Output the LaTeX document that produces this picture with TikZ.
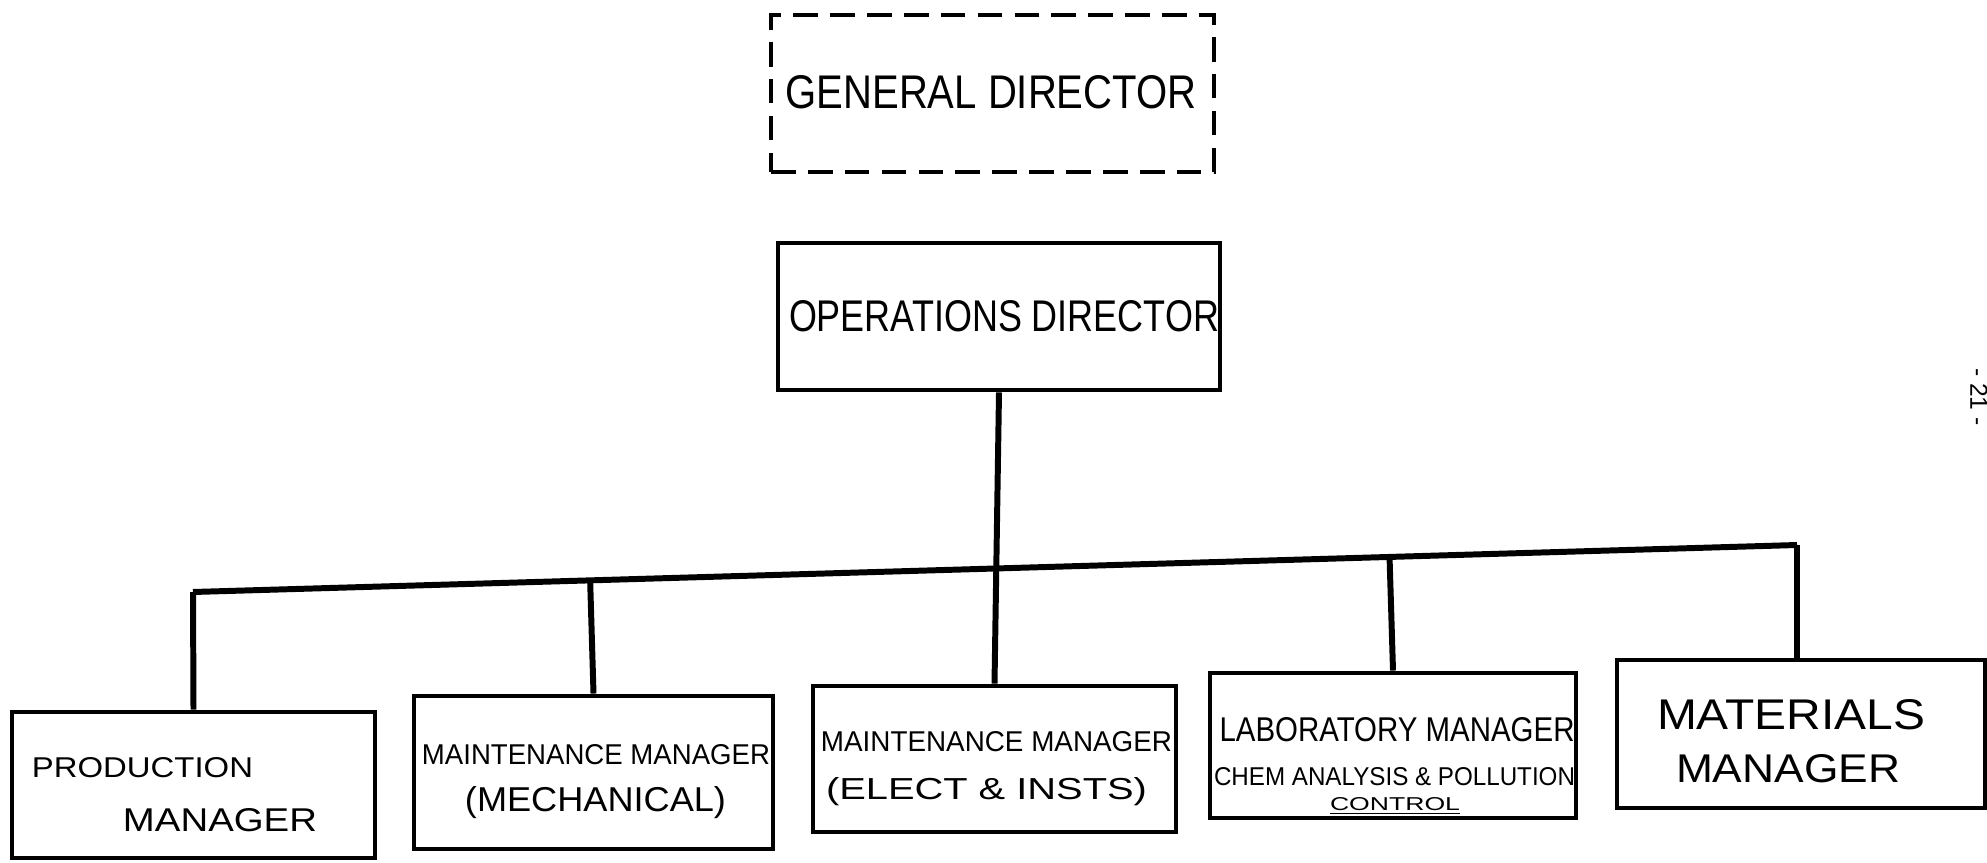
\documentclass[tikz,border=0pt]{standalone}
\usepackage{fontspec}
\setmainfont{Liberation Sans}
\usetikzlibrary{calc}
\newlength\pxu
\setlength\pxu{0.02cm}
\newcommand\fw[3]{\resizebox{#1\pxu}{#2\pxu}{#3}}
\begin{document}
\begin{tikzpicture}[x=0.02cm,y=-0.02cm,
  box/.style={draw, rectangle, line width=2.8pt, inner sep=0pt},
  dbox/.style={box, line width=2.4pt, dash pattern=on 14pt off 7pt},
  conn/.style={line width=3.4pt},
  lbl/.style={inner sep=0pt, outer sep=0pt}]
\useasboundingbox (0,0) rectangle (1987,862);
% boxes
\node[dbox, minimum width=443\pxu, minimum height=157\pxu] (gd) at (992.5,93.5) {};
\node[box, minimum width=442\pxu, minimum height=147\pxu] (od) at (999,316.5) {};
\node[box, minimum width=363\pxu, minimum height=146\pxu] (pm) at (193.5,785) {};
\node[box, minimum width=359\pxu, minimum height=153\pxu] (mm) at (593.5,772.5) {};
\node[box, minimum width=363\pxu, minimum height=146\pxu] (me) at (994.5,759) {};
\node[box, minimum width=366\pxu, minimum height=145\pxu] (lm) at (1393,745.5) {};
\node[box, minimum width=368\pxu, minimum height=148\pxu] (mt) at (1801,734) {};
% texts
\node[lbl] (gdT) at (991,92) {\fw{411}{33}{GENERAL DIRECTOR}};
\node[lbl] (odT) at (1004,316) {\fw{430}{31}{OPERATIONS DIRECTOR}};
\node[lbl] (pmA) at (142.5,768) {\fw{221}{20}{PRODUCTION}};
\node[lbl] (pmB) at (220,820) {\fw{194}{23}{MANAGER}};
\node[lbl] (mmA) at (596,755) {\fw{348}{20}{MAINTENANCE MANAGER}};
\node[lbl] (mmB) at (595.5,803) {\fw{261}{25}{(MECHANICAL)}};
\node[lbl] (meA) at (996.5,742) {\fw{351}{20}{MAINTENANCE MANAGER}};
\node[lbl] (meB) at (986.5,792) {\fw{321}{22}{(ELECT \& INSTS)}};
\node[lbl] (lmA) at (1397,730) {\fw{355}{24}{LABORATORY MANAGER}};
\node[lbl] (lmB) at (1394.5,777) {\fw{361}{18}{CHEM ANALYSIS \& POLLUTION}};
\node[lbl] (lmC) at (1395,806) {\fw{130}{13}{\underline{CONTROL}}};
\node[lbl] (mtA) at (1791,715) {\fw{268}{30}{MATERIALS}};
\node[lbl] (mtB) at (1788,769) {\fw{224}{28}{MANAGER}};
\node[lbl, rotate=-90] (pg) at (1979,397) {\fontsize{14}{14}\selectfont - 21 -};
% connectors
\coordinate (bl) at (193,592);
\coordinate (br) at (1797,545);
\draw[conn] (bl) -- (br);
\draw[conn] (od.south) -- (me.north);
\draw[conn] (pm.north) -- (bl);
\draw[conn] (mm.north) -- ($(bl)!(mm.north)!(br)$);
\draw[conn] (lm.north) -- ($(bl)!(lm.north)!(br)$);
\draw[conn] (br) -- (br |- mt.north);
\end{tikzpicture}
\end{document}
